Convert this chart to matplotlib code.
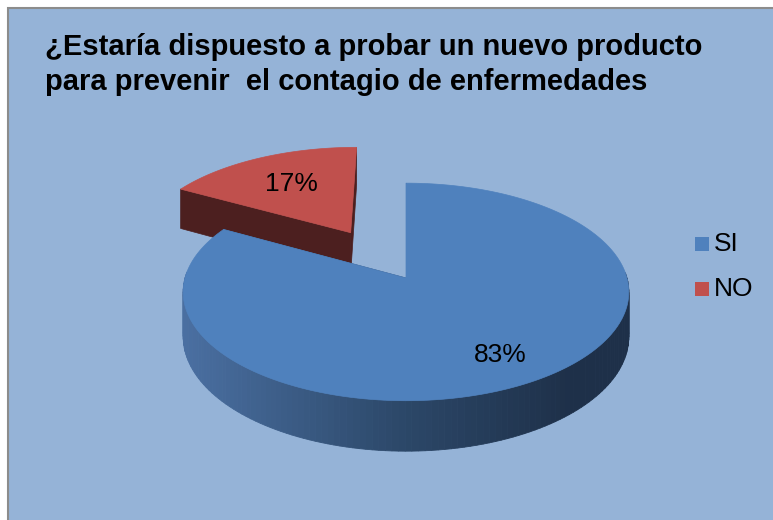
import numpy as np
import matplotlib.pyplot as plt
from matplotlib.patches import Polygon, Rectangle
from matplotlib.colors import to_rgb

# data
labels = ["SI", "NO"]
values = [83, 17]
explode = [0.0, 0.52]
top_colors = ["#4F81BD", "#C0504D"]
title_lines = ["¿Estaría dispuesto a probar un nuevo producto",
               "para prevenir  el contagio de enfermedades"]

W, H = 773, 520
BG = "#95B3D7"
FONT = "Liberation Sans"

# pie geometry in pixels (simple perspective)
CX, CY = 406, 278
SX, SY, K = 221, 107, 0.128
DEPTH = 44
LABEL_R = [0.77, 0.63]


def proj(x, y, z=0.0):
    w = 1 + K * y
    return CX + SX * x / w, CY - SY * y / w + DEPTH * z / w


def mix(c1, c2, f):
    a, b = np.array(to_rgb(c1)), np.array(to_rgb(c2))
    return tuple(a + (b - a) * f)


def side_color(i, u):
    if i == 1:
        return "#4C1F1F"
    # lighter on the left, dark navy on the right
    if u < 400:
        return mix("#4A6FA1", "#2C4869", (u - 185) / 215)
    return mix("#2C4869", "#1E3049", min(1.0, (u - 400) / 170))


fig = plt.figure(figsize=(W / 100, H / 100), dpi=100)
fig.patch.set_facecolor("white")
ax = fig.add_axes([0, 0, 1, 1])
ax.set_xlim(0, W)
ax.set_ylim(H, 0)
ax.axis("off")

ax.add_patch(Rectangle((8, 8), W, H, facecolor=BG, edgecolor="#8C8C8C", lw=1.5))

total = float(sum(values))
bounds = np.concatenate([[0], np.cumsum(values) / total]) * 2 * np.pi

# back slice (NO) first, then the front one
for i in [1, 0]:
    t0, t1 = bounds[i], bounds[i + 1]
    mid = (t0 + t1) / 2
    ox, oy = explode[i] * np.sin(mid), explode[i] * np.cos(mid)
    ts = np.linspace(t0, t1, 200)
    rx, ry = ox + np.sin(ts), oy + np.cos(ts)

    # radial faces
    for te in (t0, t1):
        ex, ey = ox + np.sin(te), oy + np.cos(te)
        quad = [proj(ox, oy), proj(ex, ey), proj(ex, ey, 1), proj(ox, oy, 1)]
        u = np.mean([p[0] for p in quad])
        ax.add_patch(Polygon(quad, closed=True, facecolor=side_color(i, u),
                             edgecolor=side_color(i, u), lw=0.5))

    # outer rim side, only the part facing the viewer
    for j in range(len(ts) - 1):
        if np.cos(ts[j]) > 0.05 and np.cos(ts[j + 1]) > 0.05:
            continue
        quad = [proj(rx[j], ry[j]), proj(rx[j + 1], ry[j + 1]),
                proj(rx[j + 1], ry[j + 1], 1), proj(rx[j], ry[j], 1)]
        u = (quad[0][0] + quad[1][0]) / 2
        c = side_color(i, u)
        ax.add_patch(Polygon(quad, closed=True, facecolor=c, edgecolor=c, lw=0.6))

    # top surface
    pts = [proj(ox, oy)] + [proj(a, b) for a, b in zip(rx, ry)]
    ax.add_patch(Polygon(pts, closed=True, facecolor=top_colors[i],
                         edgecolor=top_colors[i], lw=0.5))

    # percentage label
    lx, ly = proj(ox + LABEL_R[i] * np.sin(mid), oy + LABEL_R[i] * np.cos(mid))
    ax.text(lx, ly, f"{values[i] / total:.0%}", ha="center", va="center",
            fontsize=19, family=FONT, color="black")

# title
for k, line in enumerate(title_lines):
    ax.text(45, 55 + 35 * k, line, ha="left", va="baseline", fontsize=21,
            fontweight="bold", family=FONT, color="black")

# legend
for k, lab in enumerate(labels):
    yc = 244 + 45 * k
    ax.add_patch(Rectangle((695, yc - 7), 14, 14, facecolor=top_colors[k], edgecolor="none"))
    ax.text(714, yc, lab, ha="left", va="center", fontsize=19, family=FONT, color="black")

fig.savefig("out.png", dpi=100, facecolor=fig.get_facecolor())
